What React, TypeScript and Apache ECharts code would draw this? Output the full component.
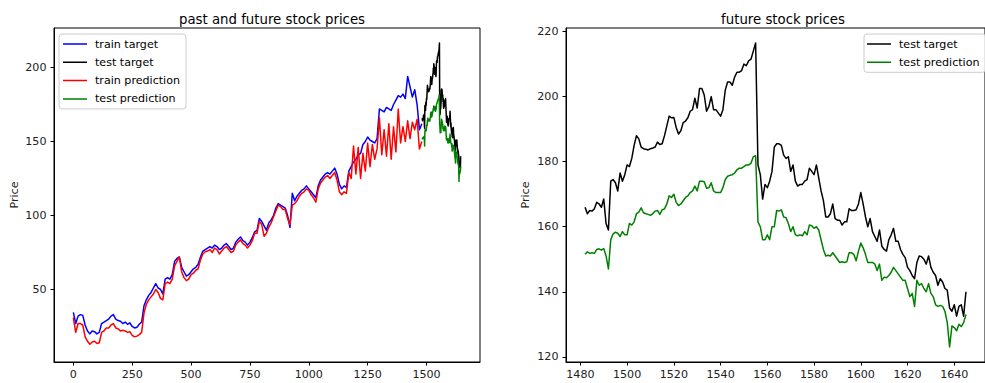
import React, { useEffect, useRef } from 'react';
import * as echarts from 'echarts';

const FONT = 'DejaVu Sans';

// train samples every 10 steps (index 0..1480)
const trainTarget = [
  34.5, 27, 32, 33, 32.5, 26, 22, 20, 22, 21.5,
  20, 21, 27, 28, 29, 30, 32, 33, 30, 29,
  28.5, 27, 28, 26.5, 27.5, 25, 24, 24.5, 26.5, 28,
  39, 43, 46, 48, 51, 54, 51, 50, 47, 57,
  58, 57, 60, 69, 71, 72, 65, 62, 59, 60,
  62, 64, 65, 67, 72, 76, 77, 78, 79, 78,
  80, 79, 77, 78, 80, 81, 79, 77, 78, 82,
  84, 85.5, 83, 82, 80, 82, 85, 89, 90, 98,
  96, 93, 90, 95, 97, 100, 105, 108, 107, 106,
  105, 100, 92, 115, 110, 113, 115, 117, 118, 120,
  118, 116, 114, 112, 120, 124, 126, 128, 129, 128,
  130, 132, 128, 121, 118, 120, 119, 130, 133, 136,
  138, 141, 142, 148, 150, 153, 151, 150, 149, 152,
  172, 171, 170, 173, 172, 171, 175, 178, 181, 180,
  182, 179, 194, 187, 180, 185, 175, 158, 162,
];

const trainPrediction = [
  31, 21, 27, 27, 26, 18, 15, 13, 14.5, 15,
  13.5, 14, 21, 22, 24, 24, 26, 27, 24, 23.5,
  22, 22.5, 22, 21, 21.5, 19, 18, 18.5, 19.5, 21,
  34, 40, 43, 45, 47, 50, 48, 44, 43, 54,
  55, 54, 57, 66, 69, 72, 62, 58, 56, 57,
  60, 61, 63, 64, 70, 74, 75.5, 76, 77, 75,
  78, 77, 74, 76, 78, 79, 77, 75, 76, 80,
  82, 83.5, 81, 80, 78, 80, 83, 88, 88, 96,
  94, 86, 88, 92, 95, 99, 103, 107, 106, 104,
  104, 98, 94, 107, 108, 110, 113, 115, 116, 118,
  117, 114, 112, 109, 118, 122, 124, 126, 127, 125,
  127, 129, 124, 116, 114, 116, 115, 129, 125, 147,
  128, 146, 125, 142, 130, 149, 133, 148, 138, 145,
  166, 141, 158, 140, 162, 138, 160, 143, 172, 149,
  160, 150, 164, 152, 163, 158, 165, 145, 150,
];

// test samples every step (index 1482..1645)
const testTarget = [
  166, 164, 165, 164.8, 165.5, 167.5, 167, 166, 168.5, 161,
  159, 174, 174.5, 173.5, 171, 176.5, 174, 176, 179, 178.5,
  181, 185, 188, 187, 184.5, 184, 183.8, 183.6, 184, 184.2,
  184.5, 186, 185.3, 185.5, 188, 191, 194, 193.5, 193.6, 190.5,
  188.5, 189.5, 192, 192.5, 193.5, 195.5, 196, 199.5, 196.5, 202.5,
  202.5, 200.5, 195.5, 197, 200, 196, 196, 195, 194, 196,
  202, 204.5, 204.5, 203.5, 206, 207.5, 207.5, 208, 210, 209.5,
  211, 211.5, 214, 216.5, 179, 176, 168.5, 173, 172, 174,
  177, 184.5, 185.5, 185.5, 185, 182, 181, 181.5, 177, 179,
  174, 172.5, 173, 173, 174, 174.5, 178, 177, 176, 179,
  175, 171, 168, 163, 163, 164, 167, 162.5, 162, 162,
  160.5, 161.5, 161.5, 165.5, 165, 165, 165.2, 167, 170.5, 167,
  163, 160, 162.5, 158.5, 157, 155.5, 159, 154, 153, 152.5,
  156, 157.5, 159.5, 155.5, 155.5, 153, 151.5, 150.5, 147.5, 146.5,
  145, 144, 149, 151, 150.8, 150, 148.5, 151, 147.5, 146,
  145, 142, 144, 143, 141, 140.5, 135, 134, 136, 132.5,
  135.5, 136, 132.5, 140,
];

const testPrediction = [
  151.5, 152.3, 151.8, 152, 151.8, 153, 153.2, 152.8, 153.3, 151,
  147, 156, 157.8, 158.3, 158, 157, 158.5, 157.5, 157.5, 161,
  160.5, 161.5, 164, 164.5, 165.8, 164.3, 164, 163.8, 163.5, 164,
  164.8, 165, 163.8, 165.2, 165.5, 167, 169.5, 169, 170, 167.5,
  166.5, 167, 168, 169, 169.5, 170.5, 171, 172.5, 171, 174,
  174, 173.8, 171.8, 172, 173.5, 171, 170.5, 170.5, 170.5, 172,
  174.5, 175.5, 175.8, 176, 176.5, 177.5, 178, 178, 178.5, 179,
  179, 179.5, 181.5, 181.8, 161.5, 160, 156, 156, 157.5, 156,
  160, 160, 165, 164.8, 165.2, 163, 162.8, 161, 158.5, 160,
  157.5, 157.2, 157.5, 157.2, 158.5, 157.5, 160.5, 160.3, 159.5, 160,
  159, 156, 153, 151, 151.2, 151, 152, 151, 150, 149,
  149.2, 149, 149.2, 152, 152, 151.5, 149.5, 152.5, 155, 153.5,
  151.5, 149, 149, 149, 148.5, 146.5, 148.5, 143.5, 144.5, 144.3,
  145, 146, 147.5, 146.5, 145.5, 144.5, 143.5, 143.5, 141, 138.5,
  139.5, 135.5, 143.5, 142, 142.5, 141, 140, 142.5, 139.5, 138.5,
  136, 135.5, 135.8, 135.5, 134, 130.5, 123, 129.5, 129, 128,
  130, 129.3, 130.5, 133,
];

const leftXTicks = [0, 250, 500, 750, 1000, 1250, 1500];
const leftYTicks = [50, 100, 150, 200];
const rightXTicks = [1480, 1500, 1520, 1540, 1560, 1580, 1600, 1620, 1640];
const rightYTicks = [120, 140, 160, 180, 200, 220];

const TRAIN_STEP = 10;
const TEST_START = 1482;

const trainX = trainTarget.map((_, i) => i * TRAIN_STEP);
const testX = testTarget.map((_, i) => TEST_START + i);

const pairs = (xs: number[], ys: number[]) => ys.map((y, i) => [xs[i], y]);

const labelStyle = { fontSize: 11.1, color: '#222', fontFamily: FONT };

// thin horizontal bar inside a 24x14 box (degenerate subpaths keep the box extents)
const LINE_ICON = 'path://M0,0L0,0ZM0,6.25L24,6.25L24,7.75L0,7.75ZM24,14L24,14Z';

function valueAxis(gridIndex: number, min: number, max: number, ticks: number[], margin: number, name?: string, nameGap?: number) {
  return {
    type: 'value',
    gridIndex,
    min,
    max,
    scale: true,
    name,
    nameLocation: 'middle',
    nameGap,
    nameTextStyle: { fontSize: 11.1, color: '#222', fontFamily: FONT },
    splitLine: { show: false },
    axisLine: { show: true, onZero: false, lineStyle: { color: '#000', width: 1 } },
    axisTick: { show: true, length: 3.5, customValues: ticks, lineStyle: { color: '#000', width: 1 } },
    axisLabel: { customValues: ticks, margin, formatter: (v: number) => String(v), ...labelStyle },
  };
}

function line(name: string, color: string, data: number[][], axisIdx: number) {
  return {
    type: 'line',
    name,
    data,
    xAxisIndex: axisIdx,
    yAxisIndex: axisIdx,
    symbol: 'none',
    showSymbol: false,
    lineStyle: { color, width: 1.5, join: 'round' },
    itemStyle: { color },
    emphasis: { disabled: true },
  };
}

const legendCommon = {
  orient: 'vertical',
  icon: LINE_ICON,
  itemWidth: 24,
  itemHeight: 14,
  itemGap: 4.3,
  backgroundColor: 'rgba(255,255,255,0.8)',
  borderColor: '#cccccc',
  borderWidth: 1,
  borderRadius: 3,
  textStyle: { fontSize: 11.1, color: '#000', fontFamily: FONT, padding: [0, 0, 0, 3] },
};

const option = {
  animation: false,
  backgroundColor: '#ffffff',
  textStyle: { fontFamily: FONT },
  title: [
    { text: 'past and future stock prices', left: 267, top: 8, textAlign: 'center', textStyle: { fontSize: 13.3, fontWeight: 'normal', color: '#000', fontFamily: FONT } },
    { text: 'future stock prices', left: 778, top: 8, textAlign: 'center', textStyle: { fontSize: 13.3, fontWeight: 'normal', color: '#000', fontFamily: FONT } },
  ],
  legend: [
    { ...legendCommon, left: 59, top: 34, padding: [3, 6, 3, 4], data: ['train target', 'test target', 'train prediction', 'test prediction'] },
    { ...legendCommon, left: 864, top: 34, padding: [3, 6, 3, 3], data: ['test target', 'test prediction'] },
  ],
  grid: [
    { left: 54, top: 28, width: 426, height: 334, show: true, borderColor: '#000', borderWidth: 1, backgroundColor: 'transparent' },
    { left: 566, top: 28, width: 424.5, height: 334, show: true, borderColor: '#000', borderWidth: 1, backgroundColor: 'transparent' },
  ],
  xAxis: [
    valueAxis(0, -82.25, 1727.25, leftXTicks, 7),
    valueAxis(1, 1473.85, 1653.15, rightXTicks, 7),
  ],
  yAxis: [
    valueAxis(0, 1, 226.7, leftYTicks, 7.5, 'Price', 34),
    valueAxis(1, 118.4, 221.1, rightYTicks, 7.5, 'Price', 35),
  ],
  series: [
    line('train target', '#0000ff', pairs(trainX, trainTarget), 0),
    line('test target', '#000000', pairs(testX, testTarget), 0),
    line('train prediction', '#ff0000', pairs(trainX, trainPrediction), 0),
    line('test prediction', '#008000', pairs(testX, testPrediction), 0),
    line('test target', '#000000', pairs(testX, testTarget), 1),
    line('test prediction', '#008000', pairs(testX, testPrediction), 1),
  ],
};

export default function App() {
  const ref = useRef<HTMLDivElement>(null);
  useEffect(() => {
    const chart = echarts.init(ref.current as HTMLDivElement, undefined, { renderer: 'svg' });
    chart.setOption(option as any);
    return () => chart.dispose();
  }, []);
  return <div ref={ref} style={{ position: 'absolute', left: 0, top: 0, width: 985, height: 383, overflow: 'hidden' }} />;
}
